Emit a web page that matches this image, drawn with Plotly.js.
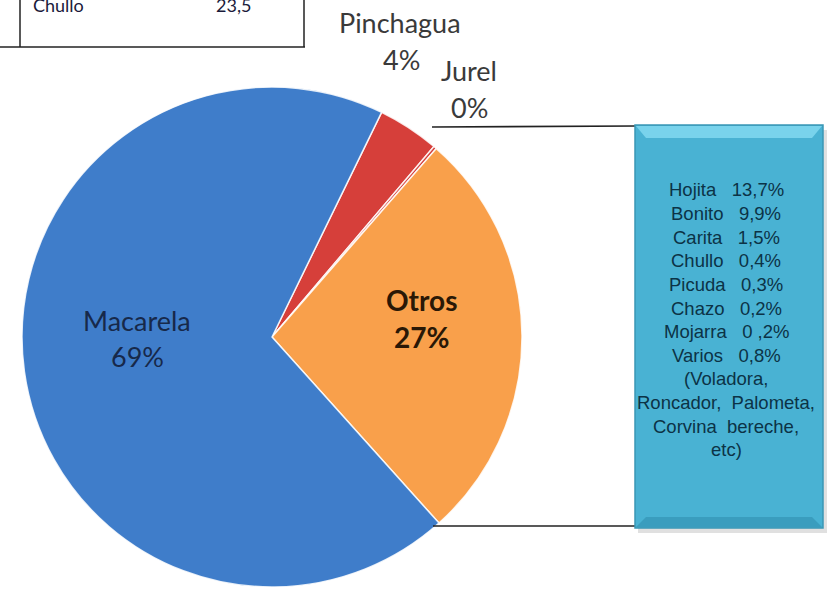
<!DOCTYPE html>
<html>
<head>
<meta charset="utf-8">
<script src="https://cdn.plot.ly/plotly-3.0.1.min.js"></script>
<style>html,body{margin:0;padding:0;background:#fff;}#chart{width:833px;height:596px;}</style>
</head>
<body>
<div id="chart"></div>
<script>
// ---- data ----
const sliceLabels = ['Pinchagua', 'Jurel', 'Otros', 'Macarela'];
const sliceValues = [4, 0.2, 27, 69];
const slicePctText = ['4%', '0%', '27%', '69%'];
const sliceColors = ['#D63F3A', '#D63F3A', '#F9A04B', '#3F7DCA'];
const detailNames = ['Hojita', 'Bonito', 'Carita', 'Chullo', 'Picuda', 'Chazo', 'Mojarra', 'Varios'];
const detailValues = ['13,7%', '9,9%', '1,5%', '0,4%', '0,3%', '0,2%', '0 ,2%', '0,8%'];
const detailExtra = ['(Voladora,', 'Roncador,  Palometa,', 'Corvina  bereche,', 'etc)'];
const tableRow = ['Chullo', '23,5'];

// ---- helpers (pixel -> paper) ----
const W = 833, H = 596;
const px = x => x / W;
const py = y => 1 - y / H;

const trace = {
  type: 'pie',
  labels: sliceLabels,
  values: sliceValues,
  sort: false,
  direction: 'clockwise',
  rotation: 26,
  textinfo: 'none',
  hoverinfo: 'label+percent',
  marker: { colors: sliceColors, line: { color: 'rgba(255,255,255,0.85)', width: 1.5 } },
  domain: { x: [px(22), px(522)], y: [py(589), py(85)] },
  showlegend: false
};

const labelFont = { family: 'Lato, "Open Sans", sans-serif', size: 27 };
const annotations = [];
function addText(text, x, y, font, anchor) {
  annotations.push({ xref: 'paper', yref: 'paper', x: px(x), y: py(y), text: text,
    showarrow: false, xanchor: anchor || 'center', yanchor: 'middle', font: font });
}
// slice labels
addText(sliceLabels[3], 137, 320, Object.assign({}, labelFont, { color: '#17294A' }));
addText(slicePctText[3], 137, 356, Object.assign({}, labelFont, { color: '#17294A' }));
addText('<b>' + sliceLabels[2] + '</b>', 421, 300, Object.assign({}, labelFont, { size: 28, color: '#2A1806' }));
addText('<b>' + slicePctText[2] + '</b>', 421, 337, Object.assign({}, labelFont, { size: 28, color: '#2A1806' }));
addText(sliceLabels[0], 400, 22, Object.assign({}, labelFont, { color: '#3A3A3A' }));
addText(slicePctText[0], 401, 60, Object.assign({}, labelFont, { color: '#3A3A3A' }));
addText(sliceLabels[1], 469, 70, Object.assign({}, labelFont, { color: '#3A3A3A' }));
addText(slicePctText[1], 469, 108, Object.assign({}, labelFont, { color: '#3A3A3A' }));

// detail box text
const boxFont = { family: '"Liberation Sans", Arial, sans-serif', size: 18.5, color: '#0C3346' };
const boxLines = detailNames.map((n, i) => n + '   ' + detailValues[i]).concat(detailExtra);
boxLines.forEach((t, i) => addText(t, 726, 190 + i * 23.6, boxFont));

// table fragment
const tblFont = { family: 'Lato, "Open Sans", sans-serif', size: 18, color: '#1A1A3A' };
addText(tableRow[0], 31, 5, tblFont, 'left');
addText(tableRow[1], 214, 5, tblFont, 'left');

const shapes = [
  // table fragment lines
  { type: 'line', xref: 'paper', yref: 'paper', x0: px(0), x1: px(305), y0: py(47), y1: py(47), line: { color: '#222', width: 1.5 } },
  { type: 'line', xref: 'paper', yref: 'paper', x0: px(20), x1: px(20), y0: py(0), y1: py(47), line: { color: '#222', width: 1.5 } },
  { type: 'line', xref: 'paper', yref: 'paper', x0: px(304), x1: px(304), y0: py(0), y1: py(47), line: { color: '#222', width: 1.5 } },
  // connector lines
  { type: 'line', xref: 'paper', yref: 'paper', x0: px(432), x1: px(636), y0: py(127), y1: py(126), line: { color: '#222', width: 1.6 } },
  { type: 'line', xref: 'paper', yref: 'paper', x0: px(433), x1: px(636), y0: py(526), y1: py(526), line: { color: '#222', width: 1.6 } },
  // box shadow
  { type: 'rect', xref: 'paper', yref: 'paper', x0: px(638), x1: px(827), y0: py(130), y1: py(533), fillcolor: 'rgba(0,0,0,0.12)', line: { width: 0 }, layer: 'below' },
  // box
  { type: 'rect', xref: 'paper', yref: 'paper', x0: px(635), x1: px(823), y0: py(125), y1: py(528), fillcolor: '#49B2D3', line: { color: '#3A97B5', width: 1.5 } },
  // bevel highlight top
  { type: 'path', xref: 'paper', yref: 'paper',
    path: 'M ' + px(636) + ' ' + py(126) + ' L ' + px(822) + ' ' + py(126) + ' L ' + px(812) + ' ' + py(138) + ' L ' + px(646) + ' ' + py(138) + ' Z',
    fillcolor: '#79D3EC', line: { width: 0 } },
  // bevel bottom dark
  { type: 'path', xref: 'paper', yref: 'paper',
    path: 'M ' + px(636) + ' ' + py(527) + ' L ' + px(822) + ' ' + py(527) + ' L ' + px(812) + ' ' + py(517) + ' L ' + px(646) + ' ' + py(517) + ' Z',
    fillcolor: '#3A9DBE', line: { width: 0 } }
];

const layout = {
  width: W, height: H,
  margin: { l: 0, r: 0, t: 0, b: 0 },
  paper_bgcolor: '#ffffff',
  plot_bgcolor: '#ffffff',
  annotations: annotations,
  shapes: shapes
};

Plotly.newPlot('chart', [trace], layout, { displayModeBar: false, staticPlot: true });
</script>
</body>
</html>
